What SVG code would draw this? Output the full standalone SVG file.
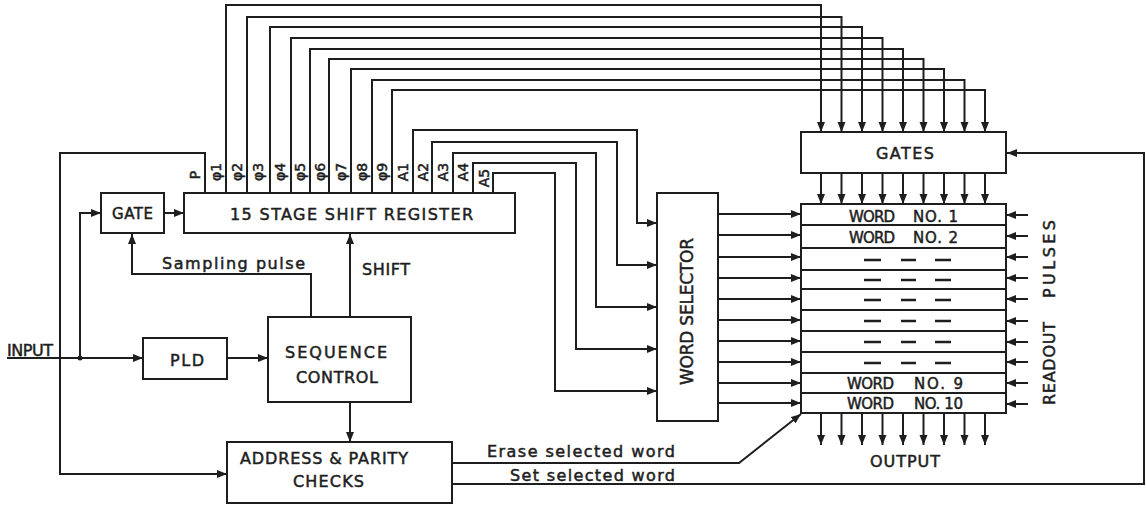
<svg xmlns="http://www.w3.org/2000/svg" width="1146" height="506" viewBox="0 0 1146 506">
<style>
.ln{fill:none;stroke:#1e1e1e;stroke-width:2}
.box{fill:#fff;stroke:#1e1e1e;stroke-width:2}
.t{font-family:"DejaVu Sans","Liberation Sans",sans-serif;font-size:16px;fill:#1e1e1e;stroke:#1e1e1e;stroke-width:0.5}
.s{font-size:14px}
.w{font-size:15px}
.m{text-anchor:middle}
</style>
<defs>
<marker id="ar" markerUnits="userSpaceOnUse" markerWidth="11" markerHeight="9" refX="10" refY="4" orient="auto">
<path d="M0,0 L10,4 L0,8 z" fill="#1e1e1e"/>
</marker>
</defs>
<rect width="1146" height="506" fill="#fff"/>

<g id="connectors" class="ln">
<!-- input -->
<path d="M7,358 H143" marker-end="url(#ar)"/>
<path d="M80,358 V213 H101" marker-end="url(#ar)"/>
<circle cx="80" cy="358" r="2.5" fill="#1e1e1e" stroke="none"/>
<!-- P loop to address checks -->
<path d="M205,193 V153 H60 V474 H227" marker-end="url(#ar)"/>
<!-- gate to register -->
<path d="M164,213 H184" marker-end="url(#ar)"/>
<!-- PLD to sequence -->
<path d="M227,358 H268" marker-end="url(#ar)"/>
<!-- sampling pulse -->
<path d="M311,317 V274 H132 V234" marker-end="url(#ar)"/>
<!-- shift -->
<path d="M350,317 V234" marker-end="url(#ar)"/>
<!-- seq to address -->
<path d="M350,402 V442" marker-end="url(#ar)"/>
<!-- phi lines -->
<path d="M226,193 V5 H821 V132" marker-end="url(#ar)"/>
<path d="M247,193 V17 H841.5 V132" marker-end="url(#ar)"/>
<path d="M270,193 V27 H862 V132" marker-end="url(#ar)"/>
<path d="M291,193 V38 H882.5 V132" marker-end="url(#ar)"/>
<path d="M310,193 V49 H903 V132" marker-end="url(#ar)"/>
<path d="M329,193 V59 H923.5 V132" marker-end="url(#ar)"/>
<path d="M351,193 V69 H944 V132" marker-end="url(#ar)"/>
<path d="M372,193 V80 H964.5 V132" marker-end="url(#ar)"/>
<path d="M392,193 V90 H985 V132" marker-end="url(#ar)"/>
<!-- A lines -->
<path d="M413,193 V130 H637 V223 H657" marker-end="url(#ar)"/>
<path d="M432,193 V142 H617 V265 H657" marker-end="url(#ar)"/>
<path d="M453,193 V153 H596 V307 H657" marker-end="url(#ar)"/>
<path d="M473,193 V163 H576 V349 H657" marker-end="url(#ar)"/>
<path d="M493,193 V173 H555 V391 H657" marker-end="url(#ar)"/>
<!-- gates to memory -->
<path d="M821,173 V204" marker-end="url(#ar)"/>
<path d="M841.5,173 V204" marker-end="url(#ar)"/>
<path d="M862,173 V204" marker-end="url(#ar)"/>
<path d="M882.5,173 V204" marker-end="url(#ar)"/>
<path d="M903,173 V204" marker-end="url(#ar)"/>
<path d="M923.5,173 V204" marker-end="url(#ar)"/>
<path d="M944,173 V204" marker-end="url(#ar)"/>
<path d="M964.5,173 V204" marker-end="url(#ar)"/>
<path d="M985,173 V204" marker-end="url(#ar)"/>
<!-- outputs -->
<path d="M821,413 V445" marker-end="url(#ar)"/>
<path d="M841.5,413 V445" marker-end="url(#ar)"/>
<path d="M862,413 V445" marker-end="url(#ar)"/>
<path d="M882.5,413 V445" marker-end="url(#ar)"/>
<path d="M903,413 V445" marker-end="url(#ar)"/>
<path d="M923.5,413 V445" marker-end="url(#ar)"/>
<path d="M944,413 V445" marker-end="url(#ar)"/>
<path d="M964.5,413 V445" marker-end="url(#ar)"/>
<path d="M985,413 V445" marker-end="url(#ar)"/>
<!-- word selector to memory -->
<path d="M718,214 H801" marker-end="url(#ar)"/>
<path d="M718,235 H801" marker-end="url(#ar)"/>
<path d="M718,257 H801" marker-end="url(#ar)"/>
<path d="M718,278 H801" marker-end="url(#ar)"/>
<path d="M718,299 H801" marker-end="url(#ar)"/>
<path d="M718,320 H801" marker-end="url(#ar)"/>
<path d="M718,341 H801" marker-end="url(#ar)"/>
<path d="M718,362 H801" marker-end="url(#ar)"/>
<path d="M718,383 H801" marker-end="url(#ar)"/>
<path d="M718,403 H801" marker-end="url(#ar)"/>
<!-- readout pulses -->
<path d="M1028,215 H1006" marker-end="url(#ar)"/>
<path d="M1028,236 H1006" marker-end="url(#ar)"/>
<path d="M1028,257 H1006" marker-end="url(#ar)"/>
<path d="M1028,278 H1006" marker-end="url(#ar)"/>
<path d="M1028,299 H1006" marker-end="url(#ar)"/>
<path d="M1028,321 H1006" marker-end="url(#ar)"/>
<path d="M1028,342 H1006" marker-end="url(#ar)"/>
<path d="M1028,362 H1006" marker-end="url(#ar)"/>
<path d="M1028,383 H1006" marker-end="url(#ar)"/>
<path d="M1028,404 H1006" marker-end="url(#ar)"/>
<!-- erase / set -->
<path d="M452,463 H739 L801,414" marker-end="url(#ar)"/>
<path d="M452,484 H1144 V153 H1007" marker-end="url(#ar)"/>
</g>

<g id="gate">
<rect class="box" x="101" y="193" width="63" height="40"/>
<text class="t w m" x="132.5" y="219" textLength="41" lengthAdjust="spacing">GATE</text>
</g>

<g id="shift-register">
<rect class="box" x="184" y="193" width="331" height="40"/>
<text class="t m" x="351.5" y="220" textLength="243" lengthAdjust="spacing">15 STAGE SHIFT REGISTER</text>
<g class="t s m">
<text transform="translate(195,175) rotate(-90)" dy="5">P</text>
<text transform="translate(216,172) rotate(-90)" dy="5">φ1</text>
<text transform="translate(237,172) rotate(-90)" dy="5">φ2</text>
<text transform="translate(258,172) rotate(-90)" dy="5">φ3</text>
<text transform="translate(280,172) rotate(-90)" dy="5">φ4</text>
<text transform="translate(300,172) rotate(-90)" dy="5">φ5</text>
<text transform="translate(320,172) rotate(-90)" dy="5">φ6</text>
<text transform="translate(341,172) rotate(-90)" dy="5">φ7</text>
<text transform="translate(362,172) rotate(-90)" dy="5">φ8</text>
<text transform="translate(382,172) rotate(-90)" dy="5">φ9</text>
<text transform="translate(403,172) rotate(-90)" dy="5">A1</text>
<text transform="translate(423,172) rotate(-90)" dy="5">A2</text>
<text transform="translate(443,172) rotate(-90)" dy="5">A3</text>
<text transform="translate(463,172) rotate(-90)" dy="5">A4</text>
<text transform="translate(484,178) rotate(-90)" dy="5">A5</text>
</g>
</g>

<g id="labels">
<text class="t" x="162" y="269" textLength="143" lengthAdjust="spacing">Sampling pulse</text>
<text class="t" x="362" y="275" textLength="48" lengthAdjust="spacing">SHIFT</text>
<text class="t" x="7" y="356" textLength="46" lengthAdjust="spacing">INPUT</text>
<text class="t" x="487" y="457" textLength="188" lengthAdjust="spacing">Erase selected word</text>
<text class="t" x="510" y="481" textLength="165" lengthAdjust="spacing">Set selected word</text>
<text class="t" x="870" y="467" textLength="70" lengthAdjust="spacing">OUTPUT</text>
<text class="t" transform="translate(1050,405) rotate(-90)" dy="5" textLength="83" lengthAdjust="spacing">READOUT</text>
<text class="t" transform="translate(1050,298) rotate(-90)" dy="5" textLength="78" lengthAdjust="spacing">PULSES</text>
</g>

<g id="pld">
<rect class="box" x="143" y="338" width="84" height="41"/>
<text class="t m" x="187" y="366" textLength="34" lengthAdjust="spacing">PLD</text>
</g>

<g id="sequence-control">
<rect class="box" x="268" y="317" width="143" height="85"/>
<text class="t m" x="336" y="358" textLength="102" lengthAdjust="spacing">SEQUENCE</text>
<text class="t m" x="337" y="383" textLength="82" lengthAdjust="spacing">CONTROL</text>
</g>

<g id="address-parity-checks">
<rect class="box" x="227" y="442" width="225" height="61"/>
<text class="t m" x="324" y="464" textLength="168" lengthAdjust="spacing">ADDRESS &amp; PARITY</text>
<text class="t m" x="328.5" y="487" textLength="71" lengthAdjust="spacing">CHECKS</text>
</g>

<g id="word-selector">
<rect class="box" x="657" y="193" width="61" height="228"/>
<text class="t m" style="font-size:17px" transform="translate(687,311.5) rotate(-90)" dy="6" textLength="147" lengthAdjust="spacing">WORD SELECTOR</text>
</g>

<g id="gates">
<rect class="box" x="801" y="132" width="205" height="41"/>
<text class="t m" x="905" y="159" textLength="58" lengthAdjust="spacing">GATES</text>
</g>

<g id="word-memory">
<rect class="box" x="801" y="204" width="205" height="209"/>
<path class="ln" d="M801,225 H1006 M801,248 H1006 M801,270 H1006 M801,289 H1006 M801,310 H1006 M801,331 H1006 M801,352 H1006 M801,373 H1006 M801,393 H1006"/>
<path class="ln" style="stroke-width:2.4" d="M864,260 H881 M901,260 H916 M935,260 H951 M864,280 H881 M901,280 H916 M935,280 H951 M864,300 H881 M901,300 H916 M935,300 H951 M864,321 H881 M901,321 H916 M935,321 H951 M864,342 H881 M901,342 H916 M935,342 H951 M864,363 H881 M901,363 H916 M935,363 H951"/>
<g class="t w">
<text x="849" y="222" textLength="46" lengthAdjust="spacing">WORD</text>
<text x="913" y="222" textLength="45" lengthAdjust="spacing">NO. 1</text>
<text x="849" y="243" textLength="46" lengthAdjust="spacing">WORD</text>
<text x="913" y="243" textLength="45" lengthAdjust="spacing">NO. 2</text>
<text x="847" y="389" textLength="47" lengthAdjust="spacing">WORD</text>
<text x="914" y="389" textLength="49" lengthAdjust="spacing">NO. 9</text>
<text x="847" y="409" textLength="47" lengthAdjust="spacing">WORD</text>
<text x="914" y="409" textLength="49" lengthAdjust="spacing">NO. 10</text>
</g>
</g>
</svg>
